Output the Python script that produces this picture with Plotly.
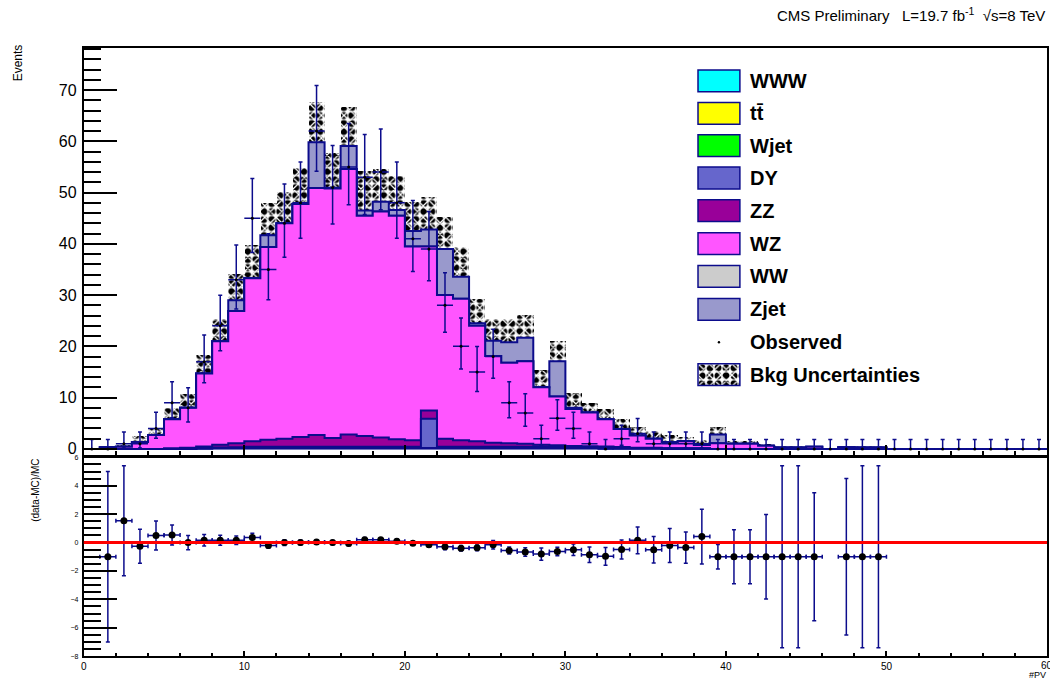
import numpy as np
import plotly.graph_objects as go

# ---------------- data (bins of #PV, width 1, from 0 to 60) ----------------
bin_lo, bin_hi = 0, 60
www   = [0,0,0,0,0,0,0,0.05,0.1,0.1, 0.1,0.1,0.1,0.1,0.1,0.1,0.1,0.1,0.1,0.1,
         0.1,0.1,0.1,0.1,0.1,0.1,0.1,0.1,0.1,0.1, 0.1,0.1,0.1,0.05,0.05,0.05,0,0,0,0,
         0,0,0,0,0,0,0,0,0,0, 0,0,0,0,0,0,0,0,0,0]
ttbar = [0]*60
wjet  = [0]*60
dy    = [0,0,0,0,0,0,0,0.1,0.15,0.2, 0.3,0.3,0.3,0.3,0.3,0.3,0.3,0.3,0.3,0.3,
         0.3,5.8,0.3,0.3,0.3,0.3,0.3,0.3,0.3,0.3, 0.2,0.2,0.2,0.2,0.1,0.1,0.1,0.1,0.1,0,
         0,0,0,0,0,0,0,0,0,0, 0,0,0,0,0,0,0,0,0,0]
zz    = [0,0,0,0,0,0.1,0.2,0.3,0.55,0.8, 1.1,1.4,1.6,1.9,2.3,1.7,2.4,2.1,1.8,1.5,
         1.3,1.6,1.6,1.3,1.1,0.8,0.7,0.6,0.4,0.3, 0.25,0.2,0.15,0.1,0.08,0.05,0,0,0,0,
         0,0,0,0,0,0,0,0,0,0, 0,0,0,0,0,0,0,0,0,0]
wz    = [0,0.3,0.4,1.35,2.7,5.7,7.8,14.25,20.2,25.8, 31.8,37.6,42.0,45.5,48.2,48.7,51.8,43.0,44.1,43.6,
         37.8,32.0,28.0,27.6,22.5,16.9,15.7,16.1,11.2,9.5, 7.25,6.6,5.35,3.55,2.37,1.8,1.2,1.4,0.65,1.1,
         1.0,1.0,0.6,0.29,0.29,0.41,0,0.33,0.29,0.29, 0,0,0,0,0,0,0,0,0,0]
ww    = [0]*60
zjet  = [0,0,0,0,0,0,0,0,0,2.1, 0,2.3,0,0,8.9,0,4.5,1.0,1.9,1.1,
         3.0,3.3,9.0,4.3,0.5,3.0,4.0,4.6,0,6.9, 0.2,0,0,0,0,0,0,0,0,1.7,
         0,0,0,0,0,0,0,0,0,0, 0,0,0,0,0,0,0,0,0,0]
bkg_unc = [0,0.3,0.5,1.2,1.5,2.3,2.7,3.7,4.5,5.3, 6.5,6.4,6.2,7.0,8.0,7.0,7.7,7.8,6.4,6.7,
           5.7,6.4,6.3,5.9,4.8,4.3,4.6,4.5,3.5,4.0, 3.0,2.0,2.0,2.0,1.7,1.5,1.5,0.9,1.0,1.5,
           0.7,0.7,0.5,0.3,0.3,0.3,0,0.3,0.3,0.3, 0,0,0,0,0,0,0,0,0,0]
observed = [0,0,1,1,4,9,8,17,24,33, 45,35,44,48,62,51,55,53,54,48,
            41,39,28,20,15,18,9,7,2,6, 4,1,0,2,3,1,1,1,1,0,
            0,0,0,0,0,0,0,0,0,0, 0,0,0,0,0,0,0,0,0,0]
# (data-MC)/MC, None where MC is empty
ratio = [None,-1,1.53,-0.26,0.49,0.53,0.0,0.16,0.16,0.16, 0.35,-0.2,0.0,0.0,0.04,0.0,-0.07,0.2,0.19,0.1,
         -0.05,-0.16,-0.3,-0.4,-0.37,-0.16,-0.56,-0.67,-0.81,-0.63, -0.51,-0.86,-0.97,-0.49,0.16,-0.51,-0.21,-0.35,0.42,-1,
         -1,-1,-1,-1,-1,-1,None,-1,-1,-1] + [None]*10
ratio_err = [None,6.0,3.87,1.19,1.02,0.7,0.5,0.4,0.35,0.3, 0.3,0.2,0.2,0.18,0.15,0.15,0.15,0.15,0.15,0.15,
             0.12,0.12,0.2,0.2,0.2,0.3,0.25,0.3,0.43,0.3, 0.4,0.55,0.63,0.67,0.94,0.93,1.2,1.1,1.93,0.86,
             1.9,1.9,2.97,6.4,6.4,4.5,None,5.5,6.4,6.4] + [None]*10

# stack order, bottom to top
stack = [("WWW", www, "#00ffff"), ("tt̄", ttbar, "#ffff00"), ("Wjet", wjet, "#00ff00"),
         ("DY", dy, "#6666cc"), ("ZZ", zz, "#990099"), ("WZ", wz, "#ff55ff"),
         ("WW", ww, "#cccccc"), ("Zjet", zjet, "#9999cc")]

NAVY = "#0c0c8c"
FONT = "Liberation Sans, Arial, Helvetica, sans-serif"
W, H = 1050, 682

edges = np.arange(bin_lo, bin_hi + 1)
centers = edges[:-1] + 0.5

def garwood(n):
    lo = 0.0 if n == 0 else n * (1 - 1 / (9 * n) - 1 / (3 * np.sqrt(n))) ** 3
    hi = (n + 1) * (1 - 1 / (9 * (n + 1)) + 1 / (3 * np.sqrt(n + 1))) ** 3
    return n - lo, hi - n

err_lo = [garwood(n)[0] for n in observed]
err_hi = [garwood(n)[1] for n in observed]

fig = go.Figure()

# cumulative stack, drawn from top down (ROOT THStack style)
cum = np.cumsum(np.array([s[1] for s in stack], dtype=float), axis=0)
for k in range(len(stack) - 1, -1, -1):
    vals = list(cum[k]) + [cum[k][-1]]
    fig.add_trace(go.Scatter(x=edges, y=vals, mode="lines",
                             line=dict(shape="hv", color=NAVY, width=2),
                             fill="tozeroy", fillcolor=stack[k][2],
                             xaxis="x", yaxis="y", showlegend=False, hoverinfo="skip"))

total = cum[-1]
unc = np.array(bkg_unc)
band_base = np.maximum(total - unc, 0)
band_h = total + unc - band_base

def hatch_traces(x, y, base, width, xa, ya):
    out = []
    out.append(go.Bar(x=x, y=y, base=base, width=width, xaxis=xa, yaxis=ya,
                      marker=dict(color="rgba(0,0,0,0)", line=dict(width=0),
                                  pattern=dict(shape=".", fgcolor="black", bgcolor="rgba(0,0,0,0)",
                                               fgopacity=1, size=8, solidity=0.6, fillmode="overlay")),
                      showlegend=False, hoverinfo="skip"))
    out.append(go.Bar(x=x, y=y, base=base, width=width, xaxis=xa, yaxis=ya,
                      marker=dict(color="rgba(0,0,0,0)", line=dict(width=0),
                                  pattern=dict(shape="x", fgcolor="white", bgcolor="rgba(0,0,0,0)",
                                               fgopacity=1, size=8, solidity=0.28, fillmode="overlay")),
                      showlegend=False, hoverinfo="skip"))
    return out

for t in hatch_traces(centers, band_h, band_base, 1.0, "x", "y"):
    fig.add_trace(t)

# observed data
fig.add_trace(go.Scatter(x=centers, y=observed, mode="markers",
                         marker=dict(color="black", size=3),
                         error_y=dict(type="data", symmetric=False, array=err_hi, arrayminus=err_lo,
                                      color=NAVY, thickness=1.5, width=2),
                         error_x=dict(type="constant", value=0.5, color=NAVY, thickness=1.5, width=0),
                         xaxis="x", yaxis="y", showlegend=False, hoverinfo="skip"))

# ratio panel
fig.add_trace(go.Scatter(x=centers, y=ratio, mode="markers",
                         marker=dict(color="black", size=7),
                         error_y=dict(type="data", array=ratio_err, color=NAVY, thickness=1.5, width=2),
                         error_x=dict(type="constant", value=0.5, color=NAVY, thickness=1.5, width=2),
                         xaxis="x2", yaxis="y2", showlegend=False, hoverinfo="skip"))
fig.add_shape(type="line", xref="x2 domain", yref="y2", x0=0, x1=1, y0=0, y1=0,
              line=dict(color="#ff0000", width=3), layer="above")

# geometry (pixels)
fx0, fx1 = 81, 1047
top_y0, top_y1 = 44, 457
bot_y0, bot_y1 = 458, 659
px = lambda v: v / W
py = lambda v: 1 - v / H

axis_common = dict(showline=True, linecolor="black", linewidth=2, mirror=True,
                   showgrid=False, zeroline=False, ticks="inside", tickcolor="black")

fig.update_layout(
    width=W, height=H, margin=dict(l=0, r=0, t=0, b=0),
    paper_bgcolor="white", plot_bgcolor="white", barmode="overlay", bargap=0,
    font=dict(family=FONT, color="black"),
    showlegend=False,
    xaxis=dict(domain=[px(fx0), px(fx1)], anchor="y", range=[0, 60], dtick=10, tick0=0,
               ticklen=11, tickwidth=1.5, showticklabels=False,
               minor=dict(dtick=2, tick0=0, ticklen=5, ticks="inside", tickwidth=1.5, tickcolor="black"),
               **axis_common),
    yaxis=dict(domain=[py(top_y1), py(top_y0)], anchor="x", range=[-1.45, 78.3], dtick=10, tick0=0,
               ticklen=33, tickwidth=1.5, tickfont=dict(size=16, family=FONT, color="black"),
               ticklabelstandoff=2,
               minor=dict(dtick=2, tick0=0, ticklen=17, ticks="inside", tickwidth=1.5, tickcolor="black"),
               **axis_common),
    xaxis2=dict(domain=[px(fx0), px(fx1)], anchor="y2", range=[0, 60], dtick=10, tick0=0,
                ticklen=5, tickwidth=1.5, tickfont=dict(size=10, family=FONT, color="black"),
                minor=dict(dtick=2, tick0=0, ticklen=3, ticks="inside", tickwidth=1.5, tickcolor="black"),
                **axis_common),
    yaxis2=dict(domain=[py(bot_y1), py(bot_y0)], anchor="x2", range=[-8, 6], dtick=2, tick0=0,
                ticklen=33, tickwidth=1.5, tickfont=dict(size=7, family=FONT, color="black"),
                ticklabelstandoff=2,
                minor=dict(dtick=0.5, tick0=0, ticklen=17, ticks="inside", tickwidth=1.5, tickcolor="black"),
                **axis_common),
    xaxis3=dict(domain=[px(697), px(739)], anchor="y3", range=[0, 1], visible=False),
    yaxis3=dict(domain=[py(385.5), py(363.5)], anchor="x3", range=[0, 1], visible=False),
)

# last x tick label of the ratio panel (cut by the page edge as in the original)
fig.add_annotation(x=60, y=py(668), xref="x2", yref="paper", text="60", showarrow=False,
                   xanchor="center", yanchor="middle", font=dict(size=10, family=FONT, color="black"))

# ---------------- legend ----------------
row_y = [77.7, 110.4, 143.1, 175.8, 208.8, 242.0, 275.2, 308.5]
legend_items = [(s[0], s[2]) for s in stack]
for (label, col), yc in zip(legend_items, row_y):
    fig.add_shape(type="rect", xref="paper", yref="paper", x0=px(697), x1=px(739),
                  y0=py(yc + 11), y1=py(yc - 11), fillcolor=col, line=dict(color=NAVY, width=1.5))
    fig.add_annotation(x=px(747), y=py(yc), xref="paper", yref="paper", text=label, showarrow=False,
                       xanchor="left", yanchor="middle",
                       font=dict(size=20, family=FONT, color="black", weight="bold"))

obs_y = 341.7
fig.add_shape(type="circle", xref="paper", yref="paper", x0=px(716.8), x1=px(719.2),
              y0=py(obs_y + 1.2), y1=py(obs_y - 1.2), fillcolor="black", line=dict(width=0))
fig.add_annotation(x=px(747), y=py(obs_y), xref="paper", yref="paper", text="Observed", showarrow=False,
                   xanchor="left", yanchor="middle",
                   font=dict(size=20, family=FONT, color="black", weight="bold"))

for t in hatch_traces([0.5], [1], [0], 1.0, "x3", "y3"):
    fig.add_trace(t)
fig.add_shape(type="rect", xref="paper", yref="paper", x0=px(697), x1=px(739),
              y0=py(385.5), y1=py(363.5), line=dict(color=NAVY, width=1.5), layer="above")
fig.add_annotation(x=px(747), y=py(374.5), xref="paper", yref="paper", text="Bkg Uncertainties",
                   showarrow=False, xanchor="left", yanchor="middle",
                   font=dict(size=20, family=FONT, color="black", weight="bold"))

# ---------------- texts ----------------
fig.add_annotation(x=px(1047), y=py(11), xref="paper", yref="paper",
                   text="CMS Preliminary\u00a0\u00a0\u00a0L=19.7 fb<sup>-1</sup>\u00a0\u00a0√s=8 TeV",
                   showarrow=False, xanchor="right", yanchor="middle",
                   font=dict(size=15, family=FONT, color="black"))
fig.add_annotation(x=px(15), y=py(59), xref="paper", yref="paper", text="Events", textangle=-90,
                   showarrow=False, xanchor="center", yanchor="middle",
                   font=dict(size=12, family=FONT, color="black"))
fig.add_annotation(x=px(33), y=py(491), xref="paper", yref="paper", text="(data-MC)/MC", textangle=-90,
                   showarrow=False, xanchor="center", yanchor="middle",
                   font=dict(size=10, family=FONT, color="black"))
fig.add_annotation(x=px(1048), y=py(678), xref="paper", yref="paper", text="#PV",
                   showarrow=False, xanchor="right", yanchor="middle",
                   font=dict(size=9, family=FONT, color="black"))

fig.write_html("out.html")
